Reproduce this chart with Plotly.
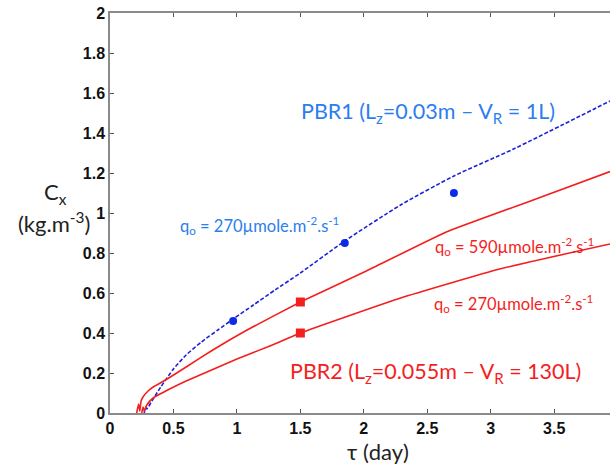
import plotly.graph_objects as go

# ---- data ----
pbr1_x = [0.27, 0.28, 0.29, 0.33, 0.40, 0.50, 0.60, 0.72, 0.85, 0.97, 1.13, 1.30, 1.5, 1.85, 2.29, 2.71, 3.18, 3.94]
pbr1_y = [0.0, 0.03, 0.02, 0.06, 0.13, 0.22, 0.29, 0.355, 0.415, 0.47, 0.54, 0.615, 0.70, 0.86, 1.04, 1.185, 1.32, 1.56]
pbr1_exp_x = [0.97, 1.85, 2.71]
pbr1_exp_y = [0.46, 0.85, 1.10]

pbr2_590_x = [0.21, 0.225, 0.235, 0.245, 0.26, 0.30, 0.34, 0.45, 0.60, 0.81, 1.08, 1.5, 2.02, 2.65, 3.34, 3.94]
pbr2_590_y = [0.0, 0.045, 0.01, 0.06, 0.08, 0.11, 0.13, 0.17, 0.23, 0.315, 0.415, 0.555, 0.71, 0.905, 1.066, 1.207]
pbr2_270_x = [0.25, 0.26, 0.27, 0.29, 0.34, 0.47, 0.60, 0.80, 1.0, 1.26, 1.5, 2.29, 3.07, 3.94]
pbr2_270_y = [0.0, 0.03, 0.01, 0.04, 0.075, 0.12, 0.16, 0.215, 0.27, 0.335, 0.40, 0.575, 0.72, 0.845]
pbr2_exp_x = [1.5, 1.5]
pbr2_exp_y = [0.555, 0.40]

x_ticks = [0, 0.5, 1, 1.5, 2, 2.5, 3, 3.5, 4]
y_ticks = [0, 0.2, 0.4, 0.6, 0.8, 1, 1.2, 1.4, 1.6, 1.8, 2]

BLUE_LINE = "#1c22d8"
BLUE_TXT = "#2b7df0"
RED = "#f41e1e"
TXT_FONT = "Lato"

L, T, B = 110, 13, 52
W, H = 610 - L, 465 - T - B

def px2paper(px, py):
    return (px - L) / W, (465 - B - py) / H

fig = go.Figure()
fig.add_trace(go.Scatter(x=pbr1_x, y=pbr1_y, mode="lines",
                         line=dict(color=BLUE_LINE, width=1.6, dash="4px,2px",
                                   shape="spline", smoothing=0.6)))
fig.add_trace(go.Scatter(x=pbr2_590_x, y=pbr2_590_y, mode="lines",
                         line=dict(color=RED, width=1.6, shape="spline", smoothing=0.35)))
fig.add_trace(go.Scatter(x=pbr2_270_x, y=pbr2_270_y, mode="lines",
                         line=dict(color=RED, width=1.6, shape="spline", smoothing=0.4)))
fig.add_trace(go.Scatter(x=pbr1_exp_x, y=pbr1_exp_y, mode="markers",
                         marker=dict(color="#0b2be6", size=8, symbol="circle")))
fig.add_trace(go.Scatter(x=pbr2_exp_x, y=pbr2_exp_y, mode="markers",
                         marker=dict(color=RED, size=9, symbol="square")))

def ann(x, y, text, color, size):
    fig.add_annotation(x=x, y=y, xref="x", yref="y", text=text, showarrow=False,
                       font=dict(family=TXT_FONT, size=size, color=color),
                       xanchor="center", yanchor="middle")

ann(2.505, 1.505, "PBR1 (L<sub>z</sub>=0.03m – V<sub>R</sub> = 1L)", BLUE_TXT, 21.5)
ann(1.175, 0.94, "q<sub>o</sub> = 270µmole.m<sup>-2</sup>.s<sup>-1</sup>", BLUE_TXT, 16.5)
ann(3.19, 0.835, "q<sub>o</sub> = 590µmole.m<sup>-2</sup>.s<sup>-1</sup>", RED, 16.5)
ann(3.18, 0.55, "q<sub>o</sub> = 270µmole.m<sup>-2</sup>.s<sup>-1</sup>", RED, 16.5)
ann(2.565, 0.205, "PBR2 (L<sub>z</sub>=0.055m – V<sub>R</sub> = 130L)", RED, 21.5)

def pann(px, py, text, size):
    x, y = px2paper(px, py)
    fig.add_annotation(x=x, y=y, xref="paper", yref="paper", text=text, showarrow=False,
                       xanchor="center", yanchor="middle",
                       font=dict(family=TXT_FONT, size=size, color="#222"))

pann(55, 193, "C<sub>x</sub>", 22)
pann(54, 222, "(kg.m<sup>-3</sup>)", 22)
pann(378, 452, "τ (day)", 22)

axis_common = dict(showgrid=False, zeroline=False, showline=True, linecolor="#8a8a8a",
                   linewidth=1.5, ticks="inside", ticklen=4, tickcolor="#555",
                   tickfont=dict(family="Liberation Sans", size=16, color="#111", weight="bold"))

fig.update_xaxes(range=[0, 3.94], tickvals=x_ticks, ticktext=[f"{v:g}" for v in x_ticks],
                 mirror="ticks", **axis_common)
fig.update_yaxes(range=[0, 2], tickvals=y_ticks, ticktext=[f"{v:g}" for v in y_ticks],
                 mirror=False, ticklabelstandoff=0, **axis_common)

fig.update_layout(width=610, height=465, margin=dict(l=L, r=0, t=T, b=B),
                  paper_bgcolor="white", plot_bgcolor="white", showlegend=False)

fig.write_html("out.html")
